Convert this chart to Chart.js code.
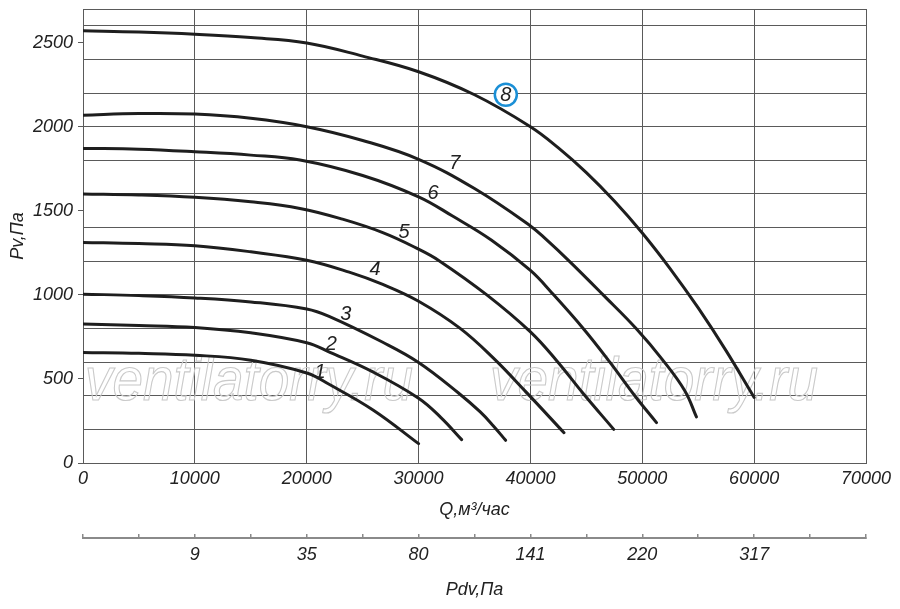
<!DOCTYPE html>
<html lang="ru">
<head>
<meta charset="utf-8">
<title>Pv(Q)</title>
<script src="https://cdn.jsdelivr.net/npm/chart.js@4.4.1/dist/chart.umd.min.js"></script>
<style>
  html, body { margin: 0; padding: 0; background: #fff; }
  #wrap { width: 900px; height: 609px; }
</style>
</head>
<body>
<div id="wrap"><canvas id="fanChart" width="900" height="609"></canvas></div>
<script>
/* Характеристики Pv(Q), кривые 1..8 */
const q1 = [0, 5000, 10000, 15000, 20000, 22080, 25960, 30000];
const pv1 = [657, 652, 641, 611, 535, 465, 314, 115];

const q2 = [0, 5000, 10000, 15000, 20000, 22080, 25960, 30000, 32000, 33850];
const pv2 = [826, 818, 806, 774, 715, 658, 540, 385, 270, 139];

const q3 = [0, 5000, 10000, 15000, 20000, 22000, 26800, 30000, 33540, 35490, 36670, 37780];
const pv3 = [1004, 996, 982, 958, 916, 872, 718, 598, 418, 305, 222, 135];

const q4 = [0, 5000, 10000, 15000, 20000, 23800, 26800, 30000, 33690, 36670, 39640, 43000];
const pv4 = [1312, 1305, 1292, 1256, 1206, 1135, 1062, 962, 802, 625, 420, 180];

const q5 = [0, 5000, 10000, 15000, 19400, 23200, 26800, 30000, 31800, 36100, 40000, 42330, 44700, 47450];
const pv5 = [1600, 1594, 1580, 1553, 1514, 1450, 1370, 1272, 1205, 1000, 780, 610, 415, 200];

const q6 = [0, 5000, 10000, 15000, 19400, 25000, 30000, 33000, 36530, 40000, 41940, 44720, 47100, 49330, 51270];
const pv6 = [1871, 1866, 1851, 1831, 1802, 1710, 1583, 1470, 1325, 1145, 1010, 800, 600, 400, 240];

const q7 = [0, 5000, 10000, 15000, 20000, 25000, 30000, 35000, 40000, 41430, 43400, 46500, 49450, 51800, 53800, 54840];
const pv7 = [2068, 2078, 2075, 2050, 2000, 1918, 1806, 1632, 1410, 1328, 1205, 1000, 800, 615, 430, 274];

const q8 = [0, 5000, 10000, 15000, 20000, 25000, 30000, 35000, 40000, 42500, 45000, 47500, 50000, 52500, 55000, 57500, 60000];
const pv8 = [2570, 2563, 2550, 2530, 2498, 2420, 2327, 2190, 2000, 1874, 1727, 1558, 1368, 1155, 922, 667, 390];

const curveQ = [q1, q2, q3, q4, q5, q6, q7, q8];
const curvePv = [pv1, pv2, pv3, pv4, pv5, pv6, pv7, pv8];

/* номера кривых и их привязка (Q, Pv) */
const curveNames = ["1", "2", "3", "4", "5", "6", "7", "8"];
const labelQ = [21200, 22200, 23500, 26100, 28700, 31300, 33250, 37800];
const labelPv = [545, 712, 890, 1160, 1380, 1610, 1790, 2190];

/* вторая шкала: динамическое давление Pdv при данном Q */
const pdvQ = [10000, 20000, 30000, 40000, 50000, 60000];
const pdvLabels = ["9", "35", "80", "141", "220", "317"];

const gridCol = "#5a5a5a";
const txtCol = "#222";
const tickFont = { family: "'Liberation Sans', Arial, sans-serif", size: 18, style: "italic" };
const clear = "rgba(0,0,0,0)";

const datasets = curveQ.map((qs, i) => ({
  label: curveNames[i],
  data: qs.map((q, j) => ({ x: q, y: curvePv[i][j] })),
  borderColor: "#1e1e1e",
  borderWidth: 3,
  pointRadius: 0,
  fill: false,
  borderCapStyle: "round",
  borderJoinStyle: "round",
  tension: 0.4,
}));

const watermark = {
  id: "watermark",
  beforeDatasetsDraw(chart) {
    const { ctx, chartArea } = chart;
    ctx.save();
    ctx.font = "italic 62px 'Liberation Sans', Arial, sans-serif";
    ctx.strokeStyle = "#cacaca";
    ctx.lineWidth = 1.2;
    ctx.textBaseline = "alphabetic";
    const txt = "ventilatorry.ru";
    const w = ctx.measureText(txt).width;
    const k = 328 / w;
    [2, 407].forEach((dx) => {
      ctx.save();
      ctx.translate(chartArea.left + dx, chartArea.top + 391);
      ctx.scale(k, 1);
      ctx.strokeText(txt, 0, 0);
      ctx.restore();
    });
    ctx.restore();
  },
};

const curveLabels = {
  id: "curveLabels",
  afterDatasetsDraw(chart) {
    const { ctx, scales } = chart;
    ctx.save();
    ctx.font = "italic 20px 'Liberation Sans', Arial, sans-serif";
    ctx.fillStyle = txtCol;
    ctx.textAlign = "center";
    ctx.textBaseline = "middle";
    curveNames.forEach((name, i) => {
      const px = scales.x.getPixelForValue(labelQ[i]);
      const py = scales.y.getPixelForValue(labelPv[i]);
      if (name === "8") {
        ctx.fillStyle = "#fff";
        ctx.beginPath();
        ctx.arc(px, py, 11, 0, Math.PI * 2);
        ctx.fill();
        ctx.strokeStyle = "#1a8fd6";
        ctx.lineWidth = 2.5;
        ctx.stroke();
        ctx.fillStyle = txtCol;
      }
      ctx.fillText(name, px, py + 1);
    });
    ctx.restore();
  },
};

const config = {
  type: "line",
  data: { datasets: datasets },
  options: {
    responsive: false,
    animation: false,
    layout: { padding: { top: 9, right: 34, bottom: 0, left: 0 } },
    plugins: { legend: { display: false }, tooltip: { enabled: false } },
    scales: {
      x: {
        type: "linear",
        position: "bottom",
        weight: 0,
        min: 0,
        max: 70000,
        grid: { color: gridCol, drawTicks: false },
        border: { color: gridCol },
        ticks: {
          stepSize: 10000,
          autoSkip: false,
          maxRotation: 0,
          padding: 5,
          color: txtCol,
          font: tickFont,
          callback: (v) => String(v),
        },
        title: {
          display: true,
          text: "Q,м³/час",
          color: txtCol,
          font: tickFont,
          padding: { top: 0, bottom: 17 },
        },
        afterFit(s) { s.height = 75; },
      },
      x2: {
        type: "linear",
        position: "bottom",
        weight: 1,
        min: 0,
        max: 70000,
        grid: { drawOnChartArea: false, tickLength: -4, tickColor: "#8a8a8a", lineWidth: 1.5 },
        border: { color: "#8a8a8a", width: 2 },
        ticks: {
          stepSize: 5000,
          autoSkip: false,
          maxRotation: 0,
          padding: 10,
          color: txtCol,
          font: tickFont,
          callback: (v) => {
            const i = pdvQ.indexOf(v);
            return i >= 0 ? pdvLabels[i] : "";
          },
        },
        title: {
          display: true,
          text: "Pdv,Па",
          color: txtCol,
          font: tickFont,
          padding: { top: 0, bottom: 8 },
        },
        afterFit(s) { s.height = 71; },
      },
      y: {
        type: "linear",
        min: 0,
        max: 2700,
        grid: {
          color: (c) => (c.tick && (c.tick.value % 200 === 0 || c.tick.value === 2700)) ? gridCol : clear,
          tickColor: (c) => (c.tick && c.tick.value % 500 === 0) ? gridCol : clear,
          tickLength: 5,
        },
        border: { color: gridCol },
        ticks: {
          stepSize: 100,
          maxTicksLimit: 100,
          autoSkip: false,
          padding: 5,
          color: txtCol,
          font: tickFont,
          callback: (v) => (v % 500 === 0 ? String(v) : ""),
        },
        title: {
          display: true,
          text: "Pv,Па",
          color: txtCol,
          font: tickFont,
          padding: { top: 7, bottom: 0 },
        },
        afterFit(s) {
          s.width = 83;
          s.paddingTop = 0;
          s.paddingBottom = 0;
        },
      },
    },
  },
  plugins: [watermark, curveLabels],
};

var fanChart = new Chart(document.getElementById("fanChart"), config);
</script>
</body>
</html>
